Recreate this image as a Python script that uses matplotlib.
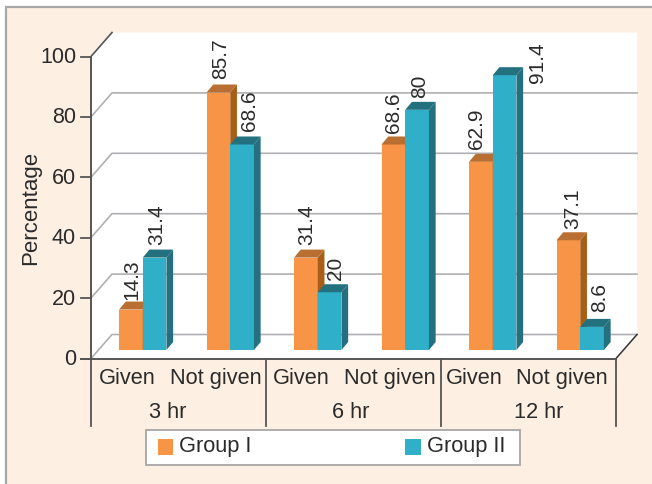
import matplotlib
matplotlib.use("Agg")
import matplotlib.pyplot as plt
from matplotlib.patches import Polygon, Rectangle

plt.rcParams['font.family'] = ['Liberation Sans', 'DejaVu Sans']

times = ["3 hr", "6 hr", "12 hr"]
answers = ["Given", "Not given", "Given", "Not given", "Given", "Not given"]
group1 = [14.3, 85.7, 31.4, 68.6, 62.9, 37.1]
group2 = [31.4, 68.6, 20, 80, 91.4, 8.6]
labels1 = ["14.3", "85.7", "31.4", "68.6", "62.9", "37.1"]
labels2 = ["31.4", "68.6", "20", "80", "91.4", "8.6"]
yticks = [0, 20, 40, 60, 80, 100]

# label nudges in pixels: sideways from the bar centre, gap above the bar
nudge1 = [(1, 3), (2, 6.5), (1, 6), (0, 4), (-4, 6), (4, 4)]
nudge2 = [(2, 6), (7, 6), (6, 5), (3, 5), (33, -15), (8, 8)]
answer_x = [127, 216, 301, 390, 474, 562]
time_x = [168, 351, 539]

W, H = 652, 485
ORANGE, ORANGE_TOP, ORANGE_SIDE = "#f79445", "#b96f31", "#a85e17"
TEAL, TEAL_TOP, TEAL_SIDE = "#2fafc8", "#23707f", "#246f80"
BEIGE = "#fdf0e2"
GRID = "#b0b0b4"
DARK = "#555555"
TXT = "#2b2b2b"
FS = 15.7


def box(left, top, right, bottom):
    # axes rectangle from pixel edges, origin at the top left
    return [left / W, 1 - bottom / H, (right - left) / W, (bottom - top) / H]


fig = plt.figure(figsize=(W / 100, H / 100), dpi=100, facecolor="white")

# page level: outer frame, walls, labels and legend are in pixels
page = fig.add_axes([0, 0, 1, 1], zorder=0)
page.set_xlim(0, W)
page.set_ylim(H, 0)
page.axis("off")
page.add_patch(Rectangle((6, 8), W, H, fc=BEIGE, ec="#a8a8a8", lw=1.6))

x0, x1, y_base, y_top = 91, 616, 359.5, 57.5
dx, dy = 21, -24
page.add_patch(Polygon([(x0, y_base), (x0, y_top), (x0 + dx, y_top + dy), (x1 + dx, y_top + dy),
                        (x1 + dx, y_base + dy), (x1, y_base)], fc="white", ec="none"))

# gridlines run along the back wall and fold down the side wall
unit = (y_base - y_top) / 100
for t in yticks:
    y = y_base - t * unit
    if t < 100:
        page.plot([x0, x0 + dx, x1 + dx], [y, y + dy, y + dy], color=GRID, lw=1.2, zorder=1)
    else:
        page.plot([x0, x0 + dx], [y, y + dy], color=DARK, lw=1.2, zorder=1)
    page.plot([x0 - 10, x0], [y, y], color=DARK, lw=1.3, zorder=2)
    page.text(x0 - 15, y, str(t), ha="right", va="center", fontsize=15.5, color=TXT)
page.plot([x0, x0], [y_base, y_top], color=DARK, lw=1.4, zorder=2)
page.plot([x1, x1 + dx], [y_base, y_base + dy], color="#333333", lw=1.1, zorder=2)
page.plot([x0 - 10, x1], [y_base, y_base], color=DARK, lw=1.4, zorder=2)
page.text(31, 208, "Percentage", rotation=90, ha="center", va="center", fontsize=16, color=TXT)

# category rows under the floor
cat_w = (x1 - x0) / 6
for x, a in zip(answer_x, answers):
    page.text(x, 379, a, ha="center", va="center", fontsize=FS, color=TXT)
for i, t in enumerate(times):
    page.text(time_x[i], 413, t, ha="center", va="center", fontsize=FS, color=TXT)
    page.plot([x0 + 2 * cat_w * i] * 2, [y_base, 427], color=DARK, lw=1.3)
page.plot([x1, x1], [y_base, 427], color=DARK, lw=1.3)

page.add_patch(Rectangle((146, 431), 374, 35, fc="white", ec="#a6a6a6", lw=1.3))
page.add_patch(Rectangle((157.5, 440), 15.5, 16, fc=ORANGE, ec="none"))
page.add_patch(Rectangle((405, 440), 15.5, 16, fc=TEAL, ec="none"))
page.text(179, 447, "Group I", va="center", fontsize=FS, color=TXT)
page.text(427, 447, "Group II", va="center", fontsize=FS, color=TXT)

# bars live in their own axes; the bar floor sits just above zero on this scale
px_per_unit = 3.04
floor = 1
ax = fig.add_axes(box(x0 + 8, 351 - (100 - floor) * px_per_unit, x1 + 8, 351), zorder=2)
ax.patch.set_alpha(0)
ax.axis("off")
ax.set_xlim(0, 6)
ax.set_ylim(floor, 100)

bar_w = 23.7 / cat_w
side_x = 6.7 / cat_w
side_y = 8 / px_per_unit


def draw_bars(xs, values, labels, nudges, front, top, side):
    ax.bar(xs, values, width=bar_w, color=front, align="edge", zorder=3)
    for x, v, lab, (nx, ny) in zip(xs, values, labels, nudges):
        ax.add_patch(Polygon([(x + bar_w, floor), (x + bar_w + side_x, floor + side_y),
                              (x + bar_w + side_x, v + side_y), (x + bar_w, v)],
                             fc=side, ec="none", zorder=3))
        ax.add_patch(Polygon([(x, v), (x + side_x, v + side_y), (x + bar_w + side_x, v + side_y),
                              (x + bar_w, v)], fc=top, ec="none", zorder=3))
        # offsets are in points, the nudges in pixels
        ax.annotate(lab, (x + bar_w / 2, v + side_y), xytext=(nx * 0.72, ny * 0.72),
                    textcoords="offset points", rotation=90, ha="center", va="bottom",
                    fontsize=15, color=TXT, zorder=4)


centres = [i + 0.5 for i in range(6)]
draw_bars([c - bar_w for c in centres], group1, labels1, nudge1, ORANGE, ORANGE_TOP, ORANGE_SIDE)
draw_bars(centres, group2, labels2, nudge2, TEAL, TEAL_TOP, TEAL_SIDE)

fig.savefig("out.png", dpi=100, facecolor="white")
